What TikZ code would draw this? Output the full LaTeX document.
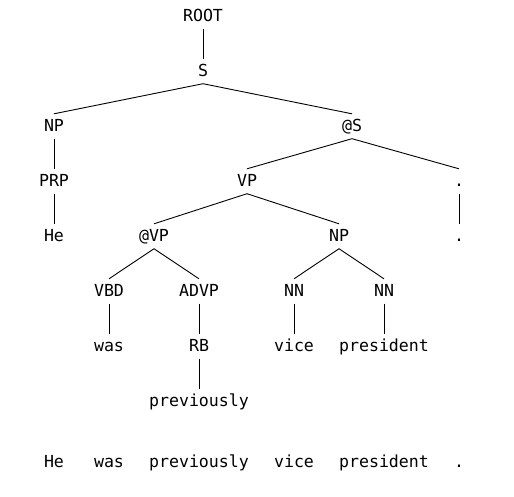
\documentclass[tikz,border=0pt]{standalone}
\usepackage{fontspec}
\setmonofont{DejaVu Sans Mono}
\begin{document}
\begin{tikzpicture}[x=1pt,y=-1pt,
  lbl/.style={anchor=base,inner sep=0pt,text height=17pt,text depth=7.5pt,font=\ttfamily\fontsize{16.6}{18}\selectfont},
  edge/.style={draw=black,line width=0.9pt}]
\useasboundingbox (0,0) rectangle (514,496);
\fill[white] (0,0) rectangle (514,496);
% tree nodes
\node[lbl] (root) at (203,21) {ROOT};
\node[lbl] (s) at (203,76) {S};
\node[lbl] (np1) at (54,131) {NP};
\node[lbl] (ats) at (352,131) {@S};
\node[lbl] (prp) at (54,186) {PRP};
\node[lbl] (vp) at (247,186) {VP};
\node[lbl] (dot1) at (459,186) {.};
\node[lbl] (he) at (54,241) {He};
\node[lbl] (atvp) at (154,241) {@VP};
\node[lbl] (np2) at (339,241) {NP};
\node[lbl] (dot2) at (459,241) {.};
\node[lbl] (vbd) at (109,296) {VBD};
\node[lbl] (advp) at (199,296) {ADVP};
\node[lbl] (nn1) at (294,296) {NN};
\node[lbl] (nn2) at (384,296) {NN};
\node[lbl] (was) at (109,351) {was};
\node[lbl] (rb) at (199,351) {RB};
\node[lbl] (vice) at (294,351) {vice};
\node[lbl] (pres) at (384,351) {president};
\node[lbl] (prev) at (199,406) {previously};
% sentence row
\node[lbl] (w1) at (54,467) {He};
\node[lbl] (w2) at (109,467) {was};
\node[lbl] (w3) at (199,467) {previously};
\node[lbl] (w4) at (294,467) {vice};
\node[lbl] (w5) at (384,467) {president};
\node[lbl] (w6) at (459,467) {.};
% edges
\draw[edge] (root.south) -- (s.north);
\draw[edge] (s.south) -- (np1.north);
\draw[edge] (s.south) -- (ats.north);
\draw[edge] (np1.south) -- (prp.north);
\draw[edge] (prp.south) -- (he.north);
\draw[edge] (ats.south) -- (vp.north);
\draw[edge] (ats.south) -- (dot1.north);
\draw[edge] (dot1.south) -- (dot2.north);
\draw[edge] (vp.south) -- (atvp.north);
\draw[edge] (vp.south) -- (np2.north);
\draw[edge] (atvp.south) -- (vbd.north);
\draw[edge] (atvp.south) -- (advp.north);
\draw[edge] (np2.south) -- (nn1.north);
\draw[edge] (np2.south) -- (nn2.north);
\draw[edge] (vbd.south) -- (was.north);
\draw[edge] (advp.south) -- (rb.north);
\draw[edge] (rb.south) -- (prev.north);
\draw[edge] (nn1.south) -- (vice.north);
\draw[edge] (nn2.south) -- (pres.north);
\end{tikzpicture}
\end{document}
